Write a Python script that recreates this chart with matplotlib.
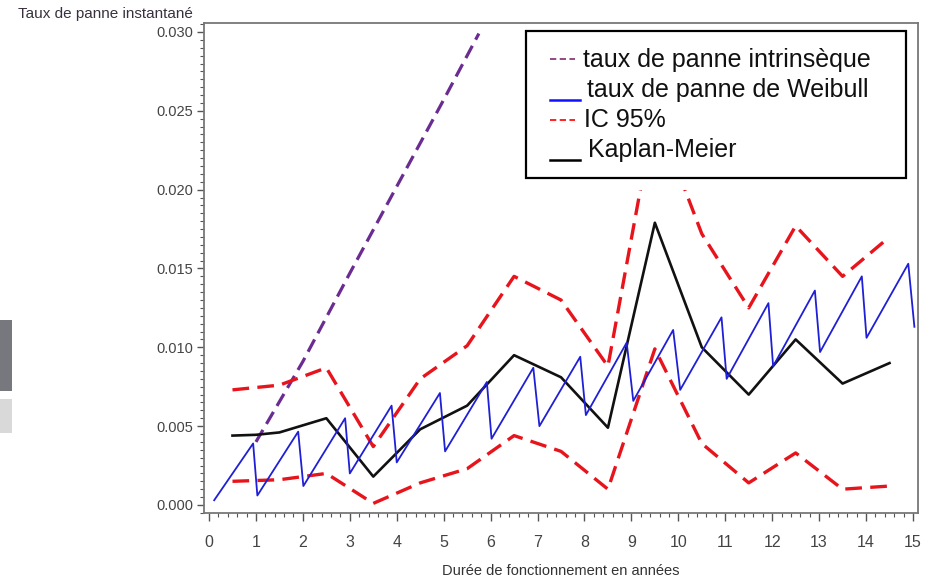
import matplotlib.pyplot as plt
from matplotlib.patches import Rectangle
from matplotlib.lines import Line2D
from matplotlib.ticker import MultipleLocator

plt.rcParams['lines.scale_dashes'] = False

# taux de panne intrinsèque (droite violette)
intr_x = [1.0, 2.0, 3.0, 4.0, 5.0, 5.75]
intr_y = [0.0040, 0.0091, 0.0147, 0.0202, 0.0257, 0.0299]

# taux de panne de Weibull (dents de scie)
weib_x = [0.11, 0.94, 1.03, 1.90, 2.01, 2.90, 3.00, 3.89, 4.00, 4.92, 5.03,
          5.92, 6.02, 6.91, 7.04, 7.91, 8.03, 8.90, 9.04, 9.89, 10.04, 10.92,
          11.03, 11.92, 12.02, 12.91, 13.02, 13.91, 14.01, 14.90, 15.03]
weib_y = [0.0003, 0.0039, 0.0006, 0.00465, 0.0012, 0.0055, 0.0020, 0.0063,
          0.0027, 0.0071, 0.0034, 0.0078, 0.0042, 0.0087, 0.0050, 0.0094,
          0.0057, 0.0103, 0.0066, 0.0111, 0.0073, 0.0119, 0.0080, 0.0128,
          0.0088, 0.0136, 0.0097, 0.0145, 0.0106, 0.0153, 0.0113]

# Kaplan-Meier et IC 95%
km_x = [0.5, 1.0, 1.5, 2.5, 3.5, 4.5, 5.5, 6.5, 7.5, 8.5, 9.5, 10.5, 11.5,
        12.5, 13.5, 14.5]
km_y = [0.0044, 0.00445, 0.0046, 0.0055, 0.0018, 0.0048, 0.0063, 0.0095,
        0.0081, 0.0049, 0.0179, 0.0100, 0.0070, 0.0105, 0.0077, 0.0090]
ic_x = [0.5, 1.5, 2.5, 3.5, 4.5, 5.5, 6.5, 7.5, 8.5, 9.5, 10.5, 11.5, 12.5,
        13.5, 14.5]
ic_haut = [0.0073, 0.0076, 0.0087, 0.0037, 0.0080, 0.0101, 0.0145, 0.0130,
           0.0088, 0.0250, 0.0172, 0.0125, 0.0177, 0.0145, 0.0170]
ic_bas = [0.0015, 0.0016, 0.0020, 0.0001, 0.0014, 0.0023, 0.0044, 0.0034,
          0.0010, 0.0099, 0.0039, 0.0014, 0.0033, 0.0010, 0.0012]

xticks = list(range(0, 16))
yticks = [0.000, 0.005, 0.010, 0.015, 0.020, 0.025, 0.030]

W, H = 929, 579
POLICE = ['Liberation Sans', 'DejaVu Sans']


def fx(px):
    return px / W


def fy(py):
    return 1 - py / H


fig = plt.figure(figsize=(W / 100, H / 100), dpi=100)
ax = fig.add_axes([fx(204), fy(513), fx(918) - fx(204), fy(23) - fy(513)])

ax.plot(intr_x, intr_y, color='#6b2c91', lw=2.3, dashes=(10, 5))
ax.plot(ic_x, ic_haut, color='#e8141c', lw=2.4, dashes=(12, 6))
ax.plot(ic_x, ic_bas, color='#e8141c', lw=2.4, dashes=(12, 6))
ax.plot(km_x, km_y, color='#111111', lw=1.9)
ax.plot(weib_x, weib_y, color='#1f1fd6', lw=1.3)

ax.set_xlim(-0.107, 15.107)
ax.set_ylim(-0.00051, 0.03057)
ax.set_xticks(xticks)
ax.set_yticks(yticks)
ax.set_yticklabels([f'{v:.3f}' for v in yticks])
ax.xaxis.set_minor_locator(MultipleLocator(0.2))
ax.yaxis.set_minor_locator(MultipleLocator(0.0005))
ax.tick_params(which='major', direction='out', length=5, width=1,
               color='#555555', labelcolor='#444444')
ax.tick_params(which='minor', direction='out', length=3, width=0.8,
               color='#555555')
ax.tick_params(axis='y', labelsize=10.5, pad=3)
ax.tick_params(axis='x', which='major', length=6, labelsize=11.5, pad=10)
for lab in ax.get_xticklabels() + ax.get_yticklabels():
    lab.set_family(POLICE)
for s in ax.spines.values():
    s.set_color('#777777')
    s.set_linewidth(1.3)

fig.text(fx(18), fy(18), 'Taux de panne instantané', fontsize=11,
         color='#3a3040', family=POLICE, ha='left', va='baseline')
fig.text(fx(561), fy(571), 'Durée de fonctionnement en années', fontsize=10.5,
         color='#333333', family=POLICE, ha='center', va='center')

# légende collée par-dessus le graphique
fig.add_artist(Rectangle((fx(520), fy(190)), fx(916) - fx(520), fy(25) - fy(190),
                         transform=fig.transFigure, facecolor='white',
                         edgecolor='none', zorder=5))
fig.add_artist(Rectangle((fx(526), fy(178)), fx(906) - fx(526), fy(31) - fy(178),
                         transform=fig.transFigure, facecolor='white',
                         edgecolor='black', lw=1.6, zorder=6))
leg = [
    ('taux de panne intrinsèque', '#8a3a7a', 59, 66.7, 583, True),
    ('taux de panne de Weibull', '#1010ff', 100, 96.7, 587, False),
    ('IC 95%', '#ff1010', 120, 126.7, 584, True),
    ('Kaplan-Meier', '#000000', 160, 156.7, 588, False),
]
for txt, col, ly, base, tx, dash in leg:
    if dash:
        line = Line2D([fx(550), fx(575)], [fy(ly), fy(ly)], color=col, lw=1.3,
                      dashes=(4.5, 2.5), transform=fig.transFigure, zorder=7)
    else:
        line = Line2D([fx(550), fx(580)], [fy(ly), fy(ly)], color=col, lw=1.8,
                      transform=fig.transFigure, zorder=7)
    fig.add_artist(line)
    fig.text(fx(tx), fy(base), txt, fontsize=18, color='#111111',
             family=POLICE, ha='left', va='baseline', zorder=7)

# bandes grises à gauche
fig.add_artist(Rectangle((0, fy(391)), fx(12), fy(320) - fy(391),
                         transform=fig.transFigure, facecolor='#76787d',
                         edgecolor='none'))
fig.add_artist(Rectangle((0, fy(433)), fx(12), fy(399) - fy(433),
                         transform=fig.transFigure, facecolor='#d9d9d9',
                         edgecolor='none'))

fig.savefig('out.png', dpi=100)
